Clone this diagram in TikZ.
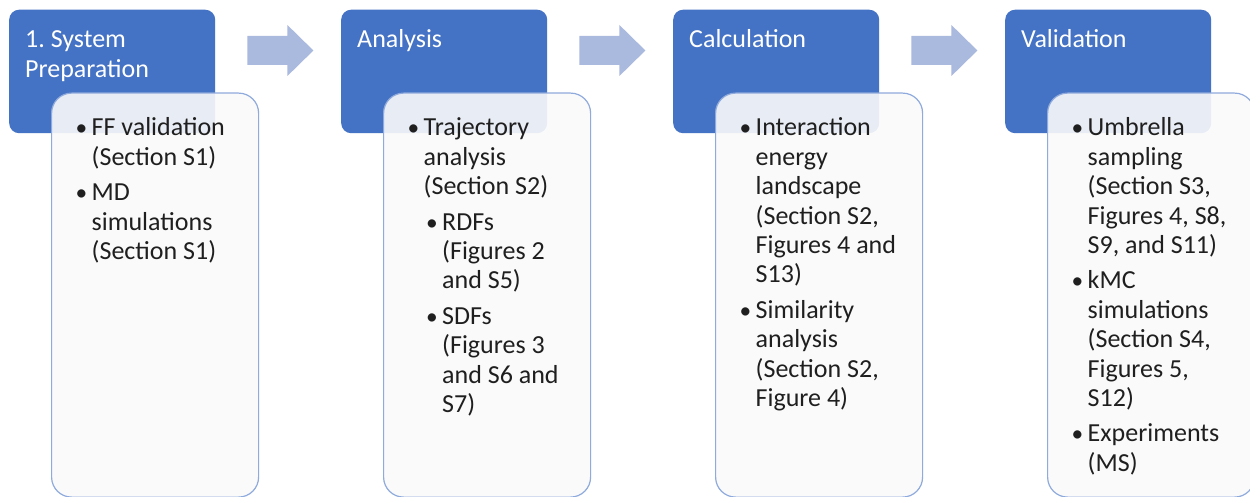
\documentclass[tikz,border=0pt]{standalone}
\usepackage{fontspec}
\usepackage{graphicx}
\setmainfont{Carlito}
\usetikzlibrary{calc}
\frenchspacing
\definecolor{headblue}{HTML}{4472C4}
\definecolor{bodyline}{HTML}{8FAADC}
\definecolor{bodyfill}{HTML}{FAFAFA}
\definecolor{arrowfill}{RGB}{170,185,222}
\definecolor{bodytext}{HTML}{1F1F1F}
\newcommand{\bu}{\makebox[14.5pt][l]{\hspace{-1.5pt}\scalebox{0.9}{\textbullet}}}
\newcommand{\cont}{\hspace*{14.5pt}}
\newcommand{\sbu}{\hspace*{18.5pt}\bu}
\newcommand{\scont}{\hspace*{33pt}}
\tikzset{
  headbox/.style={fill=headblue, rounded corners=10pt, minimum width=206pt,
    minimum height=123.5pt, anchor=north west, inner sep=0pt},
  bodybox/.style={draw=bodyline, line width=1.2pt, fill=bodyfill, fill opacity=0.9,
    rounded corners=20pt, minimum width=207pt, minimum height=404pt,
    anchor=north west, inner sep=0pt},
  headtext/.style={text=white, anchor=base west, inner sep=0pt,
    font=\fontsize{26}{30}\selectfont},
  listtext/.style={text=bodytext, anchor=base west, inner sep=0pt,
    font=\fontsize{26}{29.4}\selectfont},
  flowarrow/.style={fill=arrowfill, draw=none}
}
\begin{document}
\begin{tikzpicture}[x=1pt,y=-1pt]
\clip (0,0) rectangle (1250,497);
\fill[white] (0,0) rectangle (1250,497);
% blue heading boxes
\node[headbox] (h1) at (9,9.5) {};
\node[headbox] (h2) at (341,9.5) {};
\node[headbox] (h3) at (673,9.5) {};
\node[headbox] (h4) at (1005,9.5) {};
% block arrows
\foreach \i in {1,2,3}{
  \coordinate (a\i) at ($(h\i.north east)+(32,41)$);
  \fill[flowarrow] (a\i) +(0,-14.5) -- +(40,-14.5) -- +(40,-25.5) -- +(66,0)
     -- +(40,25.5) -- +(40,14.5) -- +(0,14.5) -- cycle;
}
% translucent body boxes
\node[bodybox] (b1) at (51,92.5) {};
\node[bodybox] (b2) at (383,92.5) {};
\node[bodybox] (b3) at (715,92.5) {};
\node[bodybox] (b4) at (1047,92.5) {};
% heading texts
\node[headtext] (ht1) at ($(h1.north west)+(16,38)$)
  {\begin{tabular}[t]{@{}l@{}}1. System\\Preparation\end{tabular}};
\node[headtext] (ht2) at ($(h2.north west)+(16,38)$) {Analysis};
\node[headtext] (ht3) at ($(h3.north west)+(16,38)$) {Calculation};
\node[headtext] (ht4) at ($(h4.north west)+(16,38)$) {Validation};
% list texts
\node[listtext] (t1) at ($(b1.north west)+(26,43.5)$)
  {\begin{tabular}[t]{@{}l@{}}
   \bu FF validation\\ \cont(Section S1)\\[6pt]
   \bu MD\\ \cont simulations\\ \cont(Section S1)
   \end{tabular}};
\node[listtext] (t2) at ($(b2.north west)+(26,43.5)$)
  {\begin{tabular}[t]{@{}l@{}}
   \bu Trajectory\\ \cont analysis\\ \cont(Section S2)\\[6pt]
   \sbu RDFs\\ \scont(Figures 2\\ \scont and S5)\\[6pt]
   \sbu SDFs\\ \scont(Figures 3\\ \scont and S6 and\\ \scont S7)
   \end{tabular}};
\node[listtext] (t3) at ($(b3.north west)+(26,43.5)$)
  {\begin{tabular}[t]{@{}l@{}}
   \bu Interaction\\ \cont energy\\ \cont landscape\\ \cont(Section S2,\\
   \cont Figures 4 and\\ \cont S13)\\[6pt]
   \bu Similarity\\ \cont analysis\\ \cont(Section S2,\\ \cont Figure 4)
   \end{tabular}};
\node[listtext] (t4) at ($(b4.north west)+(26,43.5)$)
  {\begin{tabular}[t]{@{}l@{}}
   \bu Umbrella\\ \cont sampling\\ \cont(Section S3,\\ \cont Figures 4, S8,\\
   \cont S9, and S11)\\[6pt]
   \bu kMC\\ \cont simulations\\ \cont(Section S4,\\ \cont Figures 5,\\ \cont S12)\\[6pt]
   \bu Experiments\\ \cont(MS)
   \end{tabular}};
\end{tikzpicture}
\end{document}
